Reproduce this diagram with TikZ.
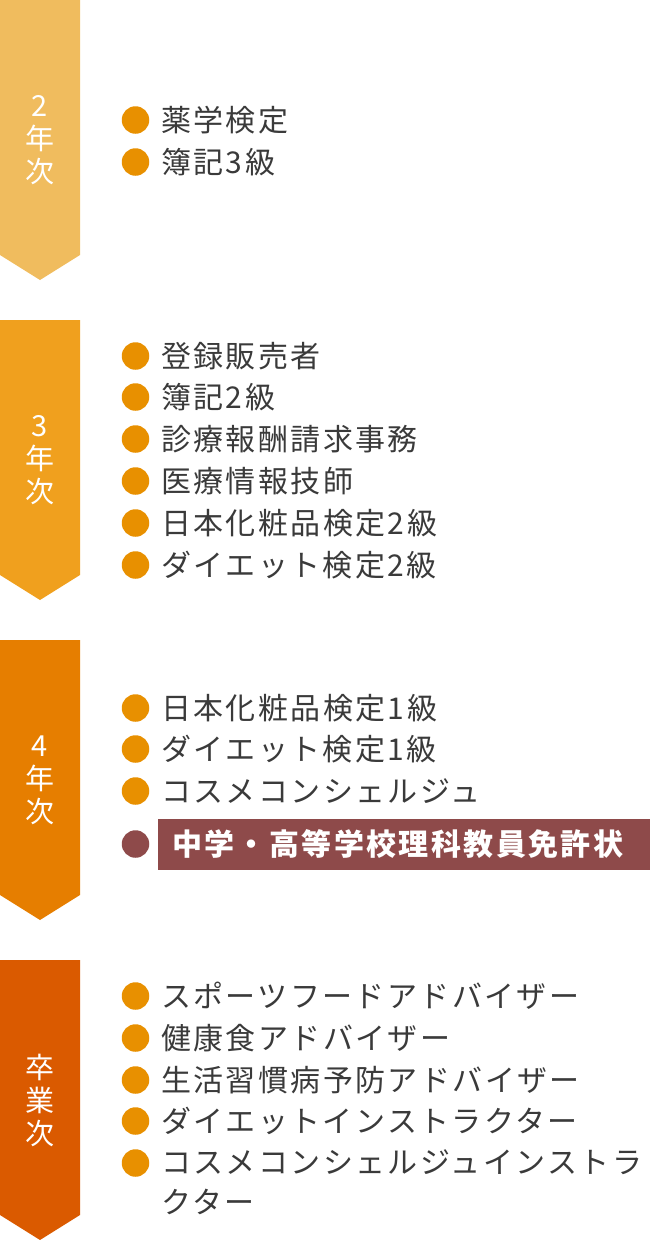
\documentclass[tikz,border=0pt]{standalone}
\usepackage{fontspec}
\setmainfont{Noto Sans CJK JP}[LetterSpace=8]
\usetikzlibrary{positioning}

\definecolor{bandA}{HTML}{F0BC5E}
\definecolor{bandB}{HTML}{F0A01E}
\definecolor{bandC}{HTML}{E67E00}
\definecolor{bandD}{HTML}{DA5A00}
\definecolor{dotorange}{HTML}{E89000}
\definecolor{maroon}{HTML}{8E4A4A}
\definecolor{textgray}{HTML}{3A3A3A}

\begin{document}
\begin{tikzpicture}[x=1pt, y=-1pt,
  year/.style={text=white, align=center, inner sep=0, font=\fontsize{29}{33}\selectfont},
  dot/.style={circle, fill=dotorange, minimum size=27.5pt, inner sep=0},
  item/.style={anchor=west, inner sep=0, text=textgray, align=left, font=\fontsize{30}{40}\selectfont},
  special/.style={anchor=west, fill=maroon, text=white, inner sep=0, minimum height=51pt, text width=492pt, align=left, font=\fontsize{30}{36}\selectfont\bfseries},
]
\useasboundingbox (0,0) rectangle (650,1240);

% Year bands (left column)
\fill[bandA] (0,0) -- (80,0) -- (80,255) -- (40,280) -- (0,255) -- cycle;
\fill[bandB] (0,320) -- (80,320) -- (80,575) -- (40,600) -- (0,575) -- cycle;
\fill[bandC] (0,640) -- (80,640) -- (80,895) -- (40,920) -- (0,895) -- cycle;
\fill[bandD] (0,960) -- (80,960) -- (80,1215) -- (40,1240) -- (0,1215) -- cycle;

\node[year] (second) at (40,140) {2\\年\\次};
\node[year] (third)  at (40,460) {3\\年\\次};
\node[year] (fourth) at (40,780) {4\\年\\次};
\node[year] (grad)   at (40,1100) {卒\\業\\次};

% 2nd year
\node[dot] (d21) at (135.5,120) {};
\node[item] (i21) at (161,120) {薬学検定};
\node[dot] (d22) at (135.5,162) {};
\node[item] (i22) at (161,162) {簿記3級};

% 3rd year
\node[dot] (d31) at (135.5,356) {};
\node[item] (i31) at (161,356) {登録販売者};
\node[dot] (d32) at (135.5,397) {};
\node[item] (i32) at (161,397) {簿記2級};
\node[dot] (d33) at (135.5,439) {};
\node[item] (i33) at (161,439) {診療報酬請求事務};
\node[dot] (d34) at (135.5,481) {};
\node[item] (i34) at (161,481) {医療情報技師};
\node[dot] (d35) at (135.5,523) {};
\node[item] (i35) at (161,523) {日本化粧品検定2級};
\node[dot] (d36) at (135.5,565) {};
\node[item] (i36) at (161,565) {ダイエット検定2級};

% 4th year
\node[dot] (d41) at (135.5,708) {};
\node[item] (i41) at (161,708) {日本化粧品検定1級};
\node[dot] (d42) at (135.5,749) {};
\node[item] (i42) at (161,749) {ダイエット検定1級};
\node[dot] (d43) at (135.5,791) {};
\node[item] (i43) at (161,791) {コスメコンシェルジュ};
\node[dot, fill=maroon] (d44) at (135.5,844) {};
\node[special] (i44) at (158,844) {\hspace{14pt}中学・高等学校理科教員免許状};

% Graduation
\node[dot] (d51) at (135.5,996) {};
\node[item] (i51) at (161,996) {スポーツフードアドバイザー};
\node[dot] (d52) at (135.5,1038) {};
\node[item] (i52) at (161,1038) {健康食アドバイザー};
\node[dot] (d53) at (135.5,1080) {};
\node[item] (i53) at (161,1080) {生活習慣病予防アドバイザー};
\node[dot] (d54) at (135.5,1121) {};
\node[item] (i54) at (161,1121) {ダイエットインストラクター};
\node[dot] (d55) at (135.5,1163) {};
\node[item, anchor=north west] (i55) at (161,1149) {コスメコンシェルジュインストラ\\クター};

\end{tikzpicture}
\end{document}
